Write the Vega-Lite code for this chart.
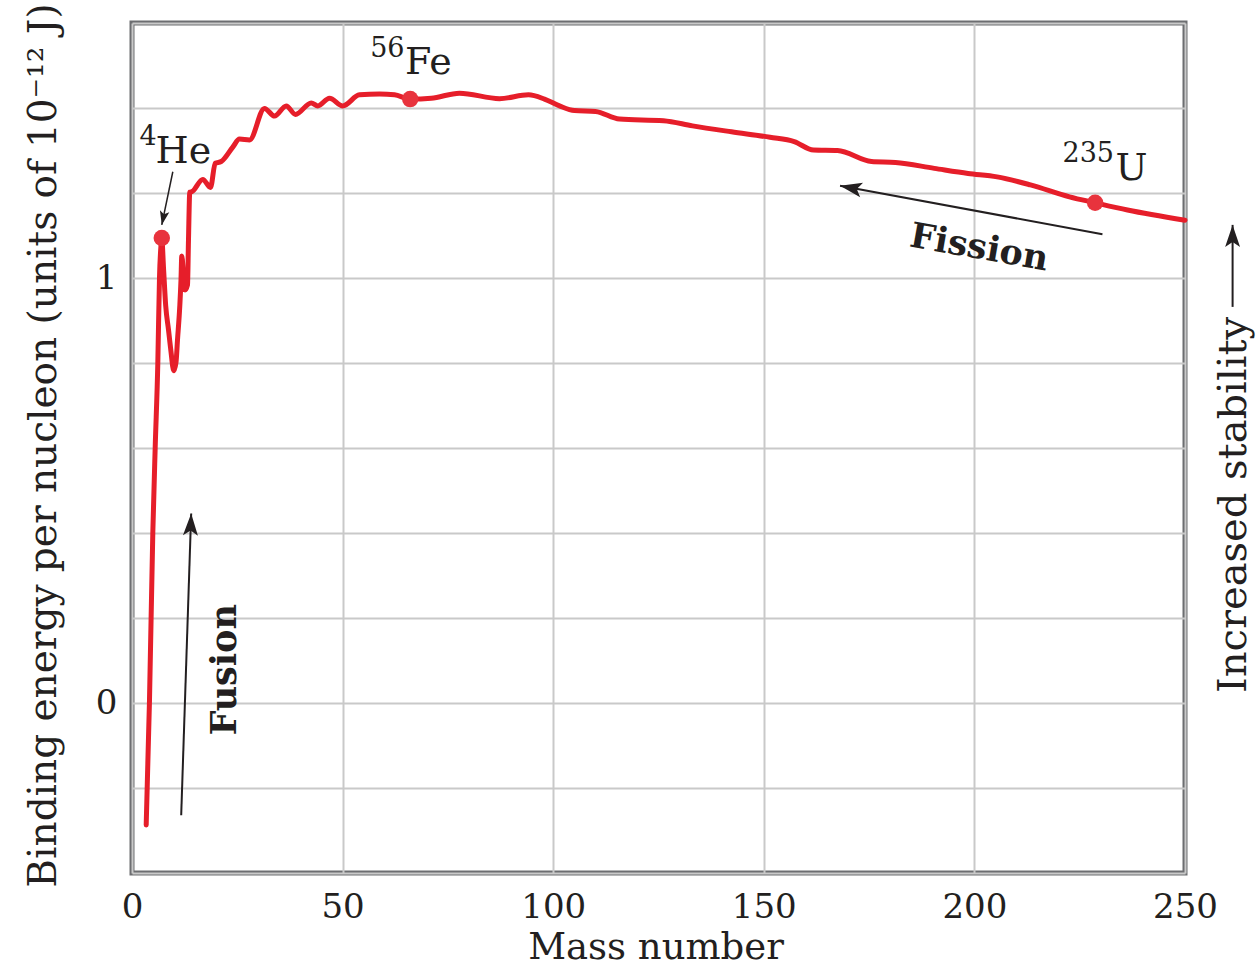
{
  "$schema": "https://vega.github.io/schema/vega-lite/v6.json",
  "width": 1053,
  "height": 850,
  "autosize": {"type": "none"},
  "padding": {"left": 132, "top": 23, "right": 74, "bottom": 104},
  "background": "white",
  "config": {
    "view": {"stroke": "#6d6e71", "strokeWidth": 5},
    "font": "DejaVu Serif",
    "axis": {
      "domain": false,
      "ticks": false,
      "tickSize": 0,
      "grid": true,
      "gridColor": "#c9c9c9",
      "gridWidth": 2,
      "labelFont": "DejaVu Serif",
      "labelColor": "#231f20",
      "titleFont": "DejaVu Serif",
      "titleColor": "#231f20",
      "titleFontWeight": "normal"
    }
  },
  "datasets": {
    "curve": [
      {"A": 3.37, "E": -0.287}, {"A": 4.15, "E": 0.005}, {"A": 4.94, "E": 0.4},
      {"A": 5.51, "E": 0.602}, {"A": 6.13, "E": 0.8}, {"A": 6.53, "E": 1.002},
      {"A": 6.89, "E": 1.078}, {"A": 7.07, "E": 1.094},
      {"A": 7.48, "E": 1.024}, {"A": 8.0, "E": 0.935}, {"A": 8.67, "E": 0.878},
      {"A": 9.21, "E": 0.831}, {"A": 9.92, "E": 0.782}, {"A": 10.45, "E": 0.802},
      {"A": 10.8, "E": 0.854}, {"A": 11.35, "E": 0.935}, {"A": 11.63, "E": 0.995},
      {"A": 11.82, "E": 1.052}, {"A": 12.23, "E": 1.007}, {"A": 12.58, "E": 0.972},
      {"A": 13.18, "E": 0.984}, {"A": 13.41, "E": 1.089}, {"A": 13.72, "E": 1.202},
      {"A": 14.2, "E": 1.203}, {"A": 16.81, "E": 1.232},
      {"A": 18.64, "E": 1.213}, {"A": 19.75, "E": 1.27}, {"A": 21.18, "E": 1.274},
      {"A": 23.93, "E": 1.308}, {"A": 25.52, "E": 1.327}, {"A": 27.9, "E": 1.325},
      {"A": 31.46, "E": 1.399}, {"A": 33.83, "E": 1.381}, {"A": 36.61, "E": 1.405},
      {"A": 38.82, "E": 1.385}, {"A": 42.55, "E": 1.412}, {"A": 44.11, "E": 1.405},
      {"A": 46.89, "E": 1.423}, {"A": 50.05, "E": 1.405}, {"A": 54.01, "E": 1.431},
      {"A": 58.76, "E": 1.433}, {"A": 62.32, "E": 1.431}, {"A": 66.05, "E": 1.421},
      {"A": 71.04, "E": 1.423}, {"A": 77.75, "E": 1.435}, {"A": 87.25, "E": 1.422},
      {"A": 94.14, "E": 1.431}, {"A": 97.93, "E": 1.421}, {"A": 101.49, "E": 1.405},
      {"A": 105.06, "E": 1.394}, {"A": 110.04, "E": 1.392}, {"A": 115.74, "E": 1.374},
      {"A": 126.19, "E": 1.37}, {"A": 133.07, "E": 1.358}, {"A": 142.33, "E": 1.344},
      {"A": 151.47, "E": 1.331}, {"A": 157.22, "E": 1.321}, {"A": 161.8, "E": 1.301},
      {"A": 167.5, "E": 1.3}, {"A": 175.57, "E": 1.274}, {"A": 181.27, "E": 1.272},
      {"A": 190.48, "E": 1.258}, {"A": 198.5, "E": 1.246}, {"A": 205.39, "E": 1.238},
      {"A": 213.32, "E": 1.219}, {"A": 222.58, "E": 1.191}, {"A": 228.66, "E": 1.177},
      {"A": 236.35, "E": 1.16}, {"A": 250, "E": 1.136}
    ],
    "dots": [
      {"name": "He", "A": 7.07, "E": 1.094},
      {"name": "Fe", "A": 66.05, "E": 1.421},
      {"name": "U", "A": 228.66, "E": 1.177}
    ],
    "labels": [
      {"kind": "big", "text": "He", "A": 5.58, "E": 1.27},
      {"kind": "sup", "text": "4", "A": 1.78, "E": 1.313},
      {"kind": "big", "text": "Fe", "A": 64.79, "E": 1.48},
      {"kind": "sup", "text": "56", "A": 56.55, "E": 1.521},
      {"kind": "big", "text": "U", "A": 233.5, "E": 1.231},
      {"kind": "sup", "text": "235", "A": 220.92, "E": 1.274},
      {"kind": "fission", "text": "Fission", "A": 200.7, "E": 1.046},
      {"kind": "fusion", "text": "Fusion", "A": 24.76, "E": 0.078},
      {"kind": "stab", "text": "Increased stability", "A": 264.5, "E": 0.466}
    ],
    "arrows": [
      {"name": "He", "A": 9.69, "E": 1.25, "A2": 7.07, "E2": 1.125},
      {"name": "fission", "A": 230.4, "E": 1.103, "A2": 168.1, "E2": 1.217},
      {"name": "fusion", "A": 11.68, "E": -0.264, "A2": 14.05, "E2": 0.446},
      {"name": "stab", "A": 261.3, "E": 0.932, "A2": 261.3, "E2": 1.125}
    ],
    "heads": [
      {"name": "He", "A": 7.07, "E": 1.125},
      {"name": "fission", "A": 168.1, "E": 1.217},
      {"name": "fusion", "A": 14.05, "E": 0.446},
      {"name": "stab", "A": 261.3, "E": 1.125}
    ]
  },
  "encoding": {
    "x": {
      "field": "A",
      "type": "quantitative",
      "scale": {"domain": [0, 250], "nice": false, "zero": false},
      "axis": {
        "values": [0, 50, 100, 150, 200, 250],
        "title": "Mass number",
        "titleFontSize": 37,
        "titleX": 523.5,
        "titleY": 85,
        "titleAlign": "center",
        "titleBaseline": "alphabetic",
        "labelFontSize": 34,
        "labelPadding": 44,
        "labelBaseline": "alphabetic",
        "labelFlush": false,
        "labelOverlap": false
      }
    },
    "y": {
      "field": "E",
      "type": "quantitative",
      "scale": {"domain": [-0.4, 1.6], "nice": false, "zero": false},
      "axis": {
        "values": [-0.4, -0.2, 0, 0.2, 0.4, 0.6, 0.8, 1, 1.2, 1.4, 1.6],
        "labelExpr": "datum.value === 0 ? '0' : (datum.value === 1 ? '1' : '')",
        "title": "Binding energy per nucleon (units of 10⁻¹² J)",
        "titleFontSize": 39,
        "titleAngle": -90,
        "titleX": -77,
        "titleY": 422,
        "titleAlign": "center",
        "titleBaseline": "alphabetic",
        "labelFontSize": 34,
        "labelPadding": 15,
        "labelAlign": "right",
        "labelBaseline": "middle",
        "labelOverlap": false
      }
    }
  },
  "layer": [
    {
      "data": {"name": "curve"},
      "mark": {"type": "line", "color": "#e61e2a", "strokeWidth": 5, "interpolate": "monotone", "strokeJoin": "round", "strokeCap": "round"}
    },
    {
      "data": {"name": "dots"},
      "mark": {"type": "point", "shape": "circle", "filled": true, "size": 270, "color": "#e8333d", "opacity": 1}
    },
    {
      "data": {"name": "arrows"},
      "transform": [{"filter": "datum.name !== 'He'"}],
      "mark": {"type": "rule", "color": "#231f20", "strokeWidth": 2},
      "encoding": {"x2": {"field": "A2"}, "y2": {"field": "E2"}}
    },
    {
      "data": {"name": "arrows"},
      "transform": [{"filter": "datum.name === 'He'"}],
      "mark": {"type": "rule", "color": "#231f20", "strokeWidth": 1.5},
      "encoding": {"x2": {"field": "A2"}, "y2": {"field": "E2"}}
    },
    {
      "data": {"name": "heads"},
      "transform": [{"filter": "datum.name === 'fission'"}],
      "mark": {"type": "point", "shape": "M0,0L0.68,2L0,1.55L-0.68,2Z", "filled": true, "size": 484, "color": "#231f20", "opacity": 1, "angle": 281.1}
    },
    {
      "data": {"name": "heads"},
      "transform": [{"filter": "datum.name === 'fusion'"}],
      "mark": {"type": "point", "shape": "M0,0L0.68,2L0,1.55L-0.68,2Z", "filled": true, "size": 484, "color": "#231f20", "opacity": 1, "angle": 1.9}
    },
    {
      "data": {"name": "heads"},
      "transform": [{"filter": "datum.name === 'stab'"}],
      "mark": {"type": "point", "shape": "M0,0L0.68,2L0,1.55L-0.68,2Z", "filled": true, "size": 484, "color": "#231f20", "opacity": 1, "angle": 0}
    },
    {
      "data": {"name": "heads"},
      "transform": [{"filter": "datum.name === 'He'"}],
      "mark": {"type": "point", "shape": "M0,0L0.68,2L0,1.55L-0.68,2Z", "filled": true, "size": 196, "color": "#231f20", "opacity": 1, "angle": 191.7}
    },
    {
      "data": {"name": "labels"},
      "transform": [{"filter": "datum.kind === 'big'"}],
      "mark": {"type": "text", "font": "DejaVu Serif", "fontSize": 38, "align": "left", "baseline": "alphabetic", "color": "#231f20"},
      "encoding": {"text": {"field": "text"}}
    },
    {
      "data": {"name": "labels"},
      "transform": [{"filter": "datum.kind === 'sup'"}],
      "mark": {"type": "text", "font": "DejaVu Serif", "fontSize": 27, "align": "left", "baseline": "alphabetic", "color": "#231f20"},
      "encoding": {"text": {"field": "text"}}
    },
    {
      "data": {"name": "labels"},
      "transform": [{"filter": "datum.kind === 'fission'"}],
      "mark": {"type": "text", "font": "DejaVu Serif", "fontSize": 35, "fontWeight": "bold", "align": "center", "baseline": "alphabetic", "angle": 10, "color": "#231f20"},
      "encoding": {"text": {"field": "text"}}
    },
    {
      "data": {"name": "labels"},
      "transform": [{"filter": "datum.kind === 'fusion'"}],
      "mark": {"type": "text", "font": "DejaVu Serif", "fontSize": 35, "fontWeight": "bold", "align": "center", "baseline": "alphabetic", "angle": 270, "color": "#231f20"},
      "encoding": {"text": {"field": "text"}}
    },
    {
      "data": {"name": "labels"},
      "transform": [{"filter": "datum.kind === 'stab'"}],
      "mark": {"type": "text", "font": "DejaVu Serif", "fontSize": 40, "align": "center", "baseline": "alphabetic", "angle": 270, "color": "#231f20"},
      "encoding": {"text": {"field": "text"}}
    }
  ]
}
